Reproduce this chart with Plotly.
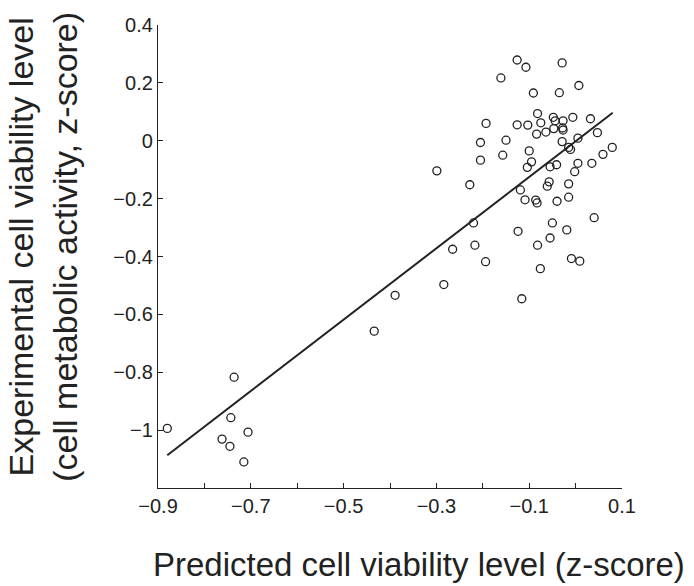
import plotly.graph_objects as go

# Scatter data (predicted, experimental)
pred = [-0.880, -0.736, -0.743, -0.706, -0.762, -0.745, -0.715,
        -0.434, -0.389, -0.299, -0.284, -0.265,
        -0.104, -0.095, -0.055, -0.041, 0.005, 0.035, -0.002, -0.228, -0.057, -0.061,
        -0.015, -0.119, -0.109, -0.086, -0.083, -0.040, -0.015, 0.040, -0.220, -0.050,
        -0.124, -0.019, -0.055, -0.217, -0.082, -0.194, -0.009, 0.009, -0.076, -0.116,
        -0.126, -0.107, -0.029, -0.161, 0.007, -0.091, -0.035, -0.082, -0.048, -0.044,
        -0.075, -0.027, -0.006, 0.032, -0.193, -0.126, -0.103, -0.047, -0.027, -0.028,
        -0.084, -0.064, 0.047, -0.205, -0.150, -0.029, 0.005, -0.100, -0.157, -0.015,
        -0.011, 0.079, 0.059, -0.205]
expt = [-0.994, -0.817, -0.957, -1.007, -1.031, -1.056, -1.110,
        -0.658, -0.534, -0.104, -0.497, -0.375,
        -0.092, -0.073, -0.090, -0.083, -0.078, -0.078, -0.107, -0.152, -0.142, -0.157,
        -0.149, -0.170, -0.204, -0.205, -0.215, -0.209, -0.195, -0.266, -0.284, -0.284,
        -0.313, -0.308, -0.336, -0.361, -0.361, -0.418, -0.407, -0.416, -0.442, -0.546,
        0.279, 0.254, 0.269, 0.217, 0.191, 0.165, 0.166, 0.094, 0.081, 0.069,
        0.062, 0.069, 0.081, 0.076, 0.060, 0.055, 0.054, 0.042, 0.037, 0.044,
        0.023, 0.030, 0.028, -0.006, 0.002, -0.003, 0.009, -0.035, -0.050, -0.023,
        -0.030, -0.023, -0.047, -0.067]

# Regression line endpoints
fit_x = [-0.880, 0.080]
fit_y = [-1.087, 0.097]

x_tickvals = [-0.9, -0.8, -0.7, -0.6, -0.5, -0.4, -0.3, -0.2, -0.1, 0.0, 0.1]
x_ticktext = ["\u22120.9", "", "\u22120.7", "", "\u22120.5", "", "\u22120.3", "", "\u22120.1", "", "0.1"]
y_tickvals = [-1.0, -0.8, -0.6, -0.4, -0.2, 0.0, 0.2, 0.4]
y_ticktext = ["\u22121", "\u22120.8", "\u22120.6", "\u22120.4", "\u22120.2", "0", "0.2", "0.4"]

FONT = "Liberation Sans, Arial, Helvetica, sans-serif"
INK = "#222222"

fig = go.Figure()
fig.add_trace(go.Scatter(x=fit_x, y=fit_y, mode="lines",
                         line=dict(color=INK, width=2), showlegend=False, hoverinfo="skip"))
fig.add_trace(go.Scatter(x=pred, y=expt, mode="markers",
                         marker=dict(symbol="circle-open", size=8, color=INK,
                                     line=dict(width=1.3, color=INK)),
                         showlegend=False))

fig.update_layout(
    width=694, height=586,
    margin=dict(l=158, r=72, t=25, b=98),
    paper_bgcolor="white", plot_bgcolor="white",
    font=dict(family=FONT, color=INK, size=20),
    xaxis=dict(range=[-0.9, 0.1], tickvals=x_tickvals, ticktext=x_ticktext,
               ticks="inside", ticklen=5, tickwidth=1.2, tickcolor=INK,
               showline=True, linecolor=INK, linewidth=1.3, showgrid=False,
               zeroline=False, tickfont=dict(size=20)),
    yaxis=dict(range=[-1.2, 0.4], tickvals=y_tickvals, ticktext=y_ticktext,
               ticks="inside", ticklen=5, tickwidth=1.2, tickcolor=INK,
               showline=True, linecolor=INK, linewidth=1.3, showgrid=False,
               zeroline=False, tickfont=dict(size=20)),
    annotations=[
        dict(text="Predicted cell viability level (z-score)", xref="paper", yref="paper",
             x=0.563, y=-0.165, xanchor="center", yanchor="middle", showarrow=False,
             font=dict(size=33, family=FONT, color=INK)),
        dict(text="Experimental cell viability level<br>(cell metabolic activity, z-score)",
             xref="paper", yref="paper", x=-0.247, y=0.522, xanchor="center", yanchor="middle",
             textangle=-90, showarrow=False, font=dict(size=34, family=FONT, color=INK)),
    ],
)

fig.write_html("out.html")
